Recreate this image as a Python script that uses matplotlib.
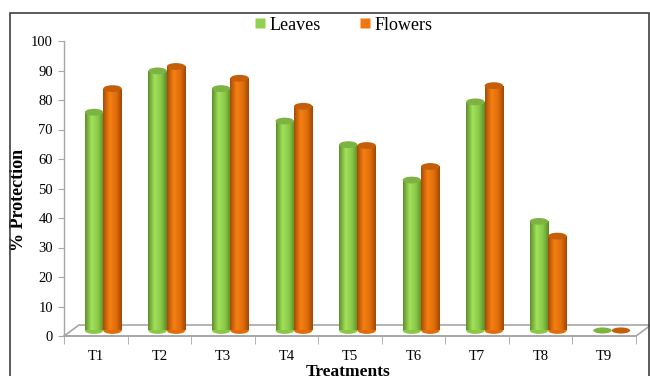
import numpy as np
import matplotlib
matplotlib.use("Agg")
import matplotlib.pyplot as plt
from matplotlib.patches import Ellipse, Polygon, Rectangle
from matplotlib.lines import Line2D

plt.rcParams['font.family'] = ['Liberation Serif', 'DejaVu Serif']

# data
treatments = ['T1', 'T2', 'T3', 'T4', 'T5', 'T6', 'T7', 'T8', 'T9']
leaves = [74, 88, 82, 71, 63, 51, 77.5, 37, 0]
flowers = [82, 89.5, 85.5, 76, 62.7, 55.6, 83, 32, 0]

green_cols = ['#5f8f2a', '#a2e25c', '#88c846', '#5c8a28']
orange_cols = ['#a84c06', '#f58012', '#e06d0a', '#a04806']
green_top = '#7cb342'
orange_top = '#c45e08'


def gradient(cols, n=64):
    stops = np.array([0.0, 0.35, 0.7, 1.0])
    rgb = np.array([matplotlib.colors.to_rgb(c) for c in cols])
    t = np.linspace(0, 1, n)
    img = np.stack([np.interp(t, stops, rgb[:, k]) for k in range(3)], axis=-1)
    return img[np.newaxis, :, :]


fig = plt.figure(figsize=(6.5, 3.76), dpi=100)
ax = fig.add_axes([64 / 650, 40 / 376, 572 / 650, 295 / 376])

# depth offsets (pseudo 3d floor)
dx, dy = 0.236, 3.73
base = dy / 2
xoff = dx / 2
width = 0.29
eh = 2.3

# floor
floor = Polygon([(-0.5, 0), (-0.5 + dx, dy), (8.5 + dx, dy), (8.5, 0)],
                closed=True, facecolor='white', edgecolor='#a6a6a6',
                lw=1.2, clip_on=False, zorder=1)
ax.add_patch(floor)

x = np.arange(len(treatments))


def cylinders(xs, vals, cols, topc):
    bars = ax.bar(xs, vals, width, bottom=base, color='none',
                  edgecolor='none', zorder=3)
    for xc, v, b in zip(xs, vals, bars):
        if v <= 0:
            ax.add_patch(Ellipse((xc, base), width, eh * 0.9, facecolor=topc,
                                 edgecolor='none', zorder=4))
            continue
        ax.add_patch(Ellipse((xc, base), width, eh, facecolor=cols[2],
                             edgecolor='none', zorder=2.5))
        im = ax.imshow(gradient(cols), extent=(xc - width / 2, xc + width / 2,
                                               base, base + v),
                       aspect='auto', zorder=3, interpolation='bilinear')
        im.set_clip_path(b)
        ax.add_patch(Ellipse((xc, base + v), width, eh, facecolor=topc,
                             edgecolor='none', zorder=4))


cylinders(x + xoff - width / 2, leaves, green_cols, green_top)
cylinders(x + xoff + width / 2, flowers, orange_cols, orange_top)

ax.set_xlim(-0.5, 8.5)
ax.set_ylim(0, 100)

for s in ['top', 'right']:
    ax.spines[s].set_visible(False)
ax.spines['left'].set_color('#a6a6a6')
ax.spines['bottom'].set_color('#a6a6a6')
ax.spines['left'].set_linewidth(1.0)
ax.spines['bottom'].set_linewidth(1.2)

ax.set_yticks(np.arange(0, 101, 10))
ax.tick_params(axis='y', length=4, color='#a6a6a6', labelsize=10.5, pad=4)
ax.set_xticks(x)
ax.set_xticklabels(treatments)
ax.set_xticks(np.arange(-0.5, 9, 1), minor=True)
ax.tick_params(axis='x', which='major', length=0, labelsize=10.5, pad=10)
ax.tick_params(axis='x', which='minor', length=6, color='#a6a6a6')

ax.set_ylabel('% Protection', fontsize=13, fontweight='bold')
ax.yaxis.set_label_coords(-0.065, 0.46)
fig.text(348 / 650, 12 / 376, 'Treatments', fontsize=12.5,
         fontweight='bold', ha='center', va='top')

handles = [Line2D([], [], marker='s', ls='none', markersize=6.5,
                  markerfacecolor='#92d050', markeredgecolor='none'),
           Line2D([], [], marker='s', ls='none', markersize=6.5,
                  markerfacecolor='#f07811', markeredgecolor='none')]
fig.legend(handles, ['Leaves', 'Flowers'], loc='center',
           bbox_to_anchor=(344 / 650, 1 - 25 / 376), ncol=2, frameon=False,
           fontsize=13, handletextpad=0.25, columnspacing=2.2,
           handlelength=0.5, borderpad=0)

# chart border
fig.add_artist(Rectangle((10 / 650, -0.05), 639 / 650, 1.05 - 13 / 376,
                         transform=fig.transFigure, fill=False,
                         edgecolor='#404040', lw=1.2))

fig.savefig('out.png', dpi=100)
